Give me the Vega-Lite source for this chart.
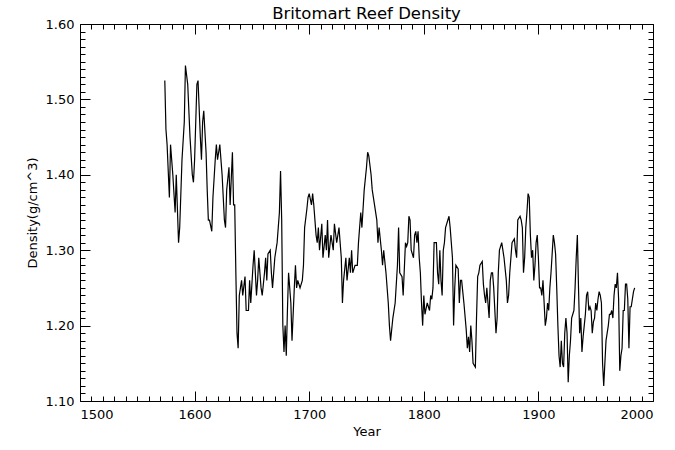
{
"$schema":"https://vega.github.io/schema/vega-lite/v6.json",
"width":573,"height":377,
"autosize":{"type":"none"},
"padding":{"left":80,"top":24,"right":22,"bottom":49},
"background":"white",
"config":{"view":{"stroke":"black","strokeWidth":1},"axis":{"domain":false,"grid":false,"tickColor":"black","tickWidth":1,"labelColor":"black","titleColor":"black","labelFont":"DejaVu Sans","titleFont":"DejaVu Sans","labelFontSize":13,"titleFontSize":13,"titleFontWeight":"normal","labelOverlap":false}},
"title":{"text":"Britomart Reef Density","font":"DejaVu Sans","fontSize":16.5,"fontWeight":"normal","color":"black","anchor":"middle","offset":-4},
"data":{"values":[
{"Year":1574,"Density":1.525},{"Year":1575,"Density":1.46},{"Year":1576,"Density":1.44},{"Year":1578,"Density":1.37},{"Year":1579,"Density":1.44},{"Year":1581,"Density":1.40},{"Year":1583,"Density":1.35},{"Year":1584,"Density":1.40},{"Year":1586,"Density":1.31},{"Year":1587,"Density":1.33},{"Year":1589,"Density":1.42},{"Year":1591,"Density":1.47},{"Year":1592,"Density":1.545},{"Year":1594,"Density":1.52},{"Year":1596,"Density":1.45},{"Year":1598,"Density":1.40},{"Year":1599,"Density":1.39},{"Year":1600,"Density":1.42},{"Year":1602,"Density":1.52},{"Year":1603,"Density":1.525},{"Year":1605,"Density":1.45},{"Year":1606,"Density":1.42},{"Year":1607,"Density":1.47},{"Year":1608,"Density":1.485},{"Year":1610,"Density":1.43},{"Year":1611,"Density":1.38},{"Year":1612,"Density":1.34},{"Year":1613,"Density":1.34},{"Year":1615,"Density":1.325},{"Year":1616,"Density":1.37},{"Year":1618,"Density":1.42},{"Year":1619,"Density":1.44},{"Year":1620,"Density":1.42},{"Year":1622,"Density":1.44},{"Year":1624,"Density":1.40},{"Year":1626,"Density":1.34},{"Year":1627,"Density":1.33},{"Year":1628,"Density":1.38},{"Year":1630,"Density":1.41},{"Year":1631,"Density":1.36},{"Year":1633,"Density":1.43},{"Year":1634,"Density":1.36},{"Year":1635,"Density":1.36},{"Year":1636,"Density":1.27},{"Year":1637,"Density":1.19},{"Year":1638,"Density":1.17},{"Year":1639,"Density":1.24},{"Year":1640,"Density":1.25},{"Year":1641,"Density":1.26},{"Year":1642,"Density":1.24},{"Year":1644,"Density":1.265},{"Year":1645,"Density":1.22},{"Year":1647,"Density":1.22},{"Year":1648,"Density":1.26},{"Year":1649,"Density":1.23},{"Year":1651,"Density":1.28},{"Year":1652,"Density":1.30},{"Year":1654,"Density":1.24},{"Year":1655,"Density":1.26},{"Year":1656,"Density":1.29},{"Year":1658,"Density":1.25},{"Year":1659,"Density":1.24},{"Year":1661,"Density":1.27},{"Year":1662,"Density":1.29},{"Year":1663,"Density":1.26},{"Year":1664,"Density":1.295},{"Year":1666,"Density":1.30},{"Year":1667,"Density":1.27},{"Year":1668,"Density":1.25},{"Year":1670,"Density":1.29},{"Year":1672,"Density":1.31},{"Year":1674,"Density":1.35},{"Year":1675,"Density":1.405},{"Year":1676,"Density":1.34},{"Year":1677,"Density":1.20},{"Year":1678,"Density":1.165},{"Year":1679,"Density":1.20},{"Year":1680,"Density":1.16},{"Year":1681,"Density":1.22},{"Year":1682,"Density":1.27},{"Year":1684,"Density":1.23},{"Year":1685,"Density":1.18},{"Year":1687,"Density":1.25},{"Year":1688,"Density":1.28},{"Year":1689,"Density":1.25},{"Year":1690,"Density":1.26},{"Year":1692,"Density":1.25},{"Year":1694,"Density":1.26},{"Year":1695,"Density":1.28},{"Year":1696,"Density":1.33},{"Year":1698,"Density":1.355},{"Year":1699,"Density":1.37},{"Year":1700,"Density":1.375},{"Year":1702,"Density":1.36},{"Year":1703,"Density":1.375},{"Year":1704,"Density":1.36},{"Year":1706,"Density":1.32},{"Year":1707,"Density":1.31},{"Year":1708,"Density":1.33},{"Year":1709,"Density":1.30},{"Year":1711,"Density":1.335},{"Year":1712,"Density":1.29},{"Year":1714,"Density":1.32},{"Year":1715,"Density":1.30},{"Year":1716,"Density":1.34},{"Year":1717,"Density":1.29},{"Year":1719,"Density":1.32},{"Year":1721,"Density":1.30},{"Year":1722,"Density":1.335},{"Year":1724,"Density":1.31},{"Year":1726,"Density":1.33},{"Year":1728,"Density":1.29},{"Year":1729,"Density":1.23},{"Year":1730,"Density":1.26},{"Year":1732,"Density":1.29},{"Year":1733,"Density":1.26},{"Year":1735,"Density":1.29},{"Year":1736,"Density":1.27},{"Year":1737,"Density":1.30},{"Year":1738,"Density":1.27},{"Year":1740,"Density":1.28},{"Year":1742,"Density":1.28},{"Year":1743,"Density":1.31},{"Year":1745,"Density":1.35},{"Year":1746,"Density":1.33},{"Year":1748,"Density":1.38},{"Year":1750,"Density":1.41},{"Year":1751,"Density":1.43},{"Year":1752,"Density":1.425},{"Year":1754,"Density":1.40},{"Year":1755,"Density":1.38},{"Year":1756,"Density":1.37},{"Year":1757,"Density":1.36},{"Year":1759,"Density":1.34},{"Year":1760,"Density":1.31},{"Year":1761,"Density":1.33},{"Year":1763,"Density":1.30},{"Year":1764,"Density":1.28},{"Year":1765,"Density":1.30},{"Year":1767,"Density":1.27},{"Year":1769,"Density":1.23},{"Year":1770,"Density":1.20},{"Year":1771,"Density":1.18},{"Year":1773,"Density":1.21},{"Year":1775,"Density":1.23},{"Year":1777,"Density":1.28},{"Year":1778,"Density":1.33},{"Year":1779,"Density":1.27},{"Year":1781,"Density":1.265},{"Year":1782,"Density":1.24},{"Year":1784,"Density":1.31},{"Year":1785,"Density":1.305},{"Year":1786,"Density":1.31},{"Year":1787,"Density":1.345},{"Year":1788,"Density":1.34},{"Year":1789,"Density":1.30},{"Year":1791,"Density":1.29},{"Year":1792,"Density":1.32},{"Year":1793,"Density":1.325},{"Year":1794,"Density":1.31},{"Year":1795,"Density":1.325},{"Year":1796,"Density":1.29},{"Year":1797,"Density":1.27},{"Year":1798,"Density":1.23},{"Year":1799,"Density":1.20},{"Year":1800,"Density":1.24},{"Year":1801,"Density":1.215},{"Year":1803,"Density":1.23},{"Year":1805,"Density":1.22},{"Year":1806,"Density":1.24},{"Year":1807,"Density":1.235},{"Year":1808,"Density":1.25},{"Year":1809,"Density":1.31},{"Year":1811,"Density":1.31},{"Year":1812,"Density":1.27},{"Year":1813,"Density":1.255},{"Year":1814,"Density":1.30},{"Year":1815,"Density":1.26},{"Year":1816,"Density":1.24},{"Year":1817,"Density":1.30},{"Year":1818,"Density":1.31},{"Year":1819,"Density":1.33},{"Year":1821,"Density":1.34},{"Year":1822,"Density":1.345},{"Year":1823,"Density":1.33},{"Year":1825,"Density":1.29},{"Year":1826,"Density":1.20},{"Year":1827,"Density":1.25},{"Year":1828,"Density":1.28},{"Year":1830,"Density":1.275},{"Year":1831,"Density":1.23},{"Year":1832,"Density":1.26},{"Year":1833,"Density":1.26},{"Year":1835,"Density":1.23},{"Year":1837,"Density":1.195},{"Year":1838,"Density":1.17},{"Year":1839,"Density":1.185},{"Year":1840,"Density":1.165},{"Year":1841,"Density":1.20},{"Year":1842,"Density":1.18},{"Year":1843,"Density":1.15},{"Year":1845,"Density":1.145},{"Year":1846,"Density":1.21},{"Year":1847,"Density":1.265},{"Year":1848,"Density":1.27},{"Year":1849,"Density":1.28},{"Year":1851,"Density":1.285},{"Year":1852,"Density":1.255},{"Year":1853,"Density":1.24},{"Year":1854,"Density":1.23},{"Year":1855,"Density":1.25},{"Year":1857,"Density":1.21},{"Year":1858,"Density":1.26},{"Year":1859,"Density":1.27},{"Year":1860,"Density":1.27},{"Year":1861,"Density":1.25},{"Year":1863,"Density":1.19},{"Year":1864,"Density":1.21},{"Year":1865,"Density":1.27},{"Year":1866,"Density":1.30},{"Year":1868,"Density":1.31},{"Year":1869,"Density":1.30},{"Year":1870,"Density":1.29},{"Year":1872,"Density":1.26},{"Year":1873,"Density":1.23},{"Year":1874,"Density":1.24},{"Year":1875,"Density":1.27},{"Year":1877,"Density":1.31},{"Year":1879,"Density":1.315},{"Year":1880,"Density":1.30},{"Year":1881,"Density":1.29},{"Year":1882,"Density":1.34},{"Year":1884,"Density":1.345},{"Year":1885,"Density":1.34},{"Year":1886,"Density":1.33},{"Year":1887,"Density":1.27},{"Year":1888,"Density":1.29},{"Year":1889,"Density":1.33},{"Year":1890,"Density":1.35},{"Year":1891,"Density":1.375},{"Year":1892,"Density":1.37},{"Year":1893,"Density":1.32},{"Year":1894,"Density":1.29},{"Year":1895,"Density":1.30},{"Year":1896,"Density":1.26},{"Year":1897,"Density":1.28},{"Year":1898,"Density":1.31},{"Year":1899,"Density":1.32},{"Year":1900,"Density":1.29},{"Year":1901,"Density":1.25},{"Year":1902,"Density":1.25},{"Year":1903,"Density":1.24},{"Year":1904,"Density":1.26},{"Year":1905,"Density":1.23},{"Year":1906,"Density":1.20},{"Year":1907,"Density":1.21},{"Year":1908,"Density":1.23},{"Year":1909,"Density":1.22},{"Year":1910,"Density":1.25},{"Year":1911,"Density":1.27},{"Year":1913,"Density":1.32},{"Year":1914,"Density":1.31},{"Year":1915,"Density":1.295},{"Year":1916,"Density":1.25},{"Year":1917,"Density":1.20},{"Year":1918,"Density":1.16},{"Year":1919,"Density":1.145},{"Year":1920,"Density":1.18},{"Year":1921,"Density":1.15},{"Year":1922,"Density":1.145},{"Year":1923,"Density":1.19},{"Year":1924,"Density":1.21},{"Year":1925,"Density":1.19},{"Year":1926,"Density":1.125},{"Year":1927,"Density":1.16},{"Year":1928,"Density":1.18},{"Year":1929,"Density":1.21},{"Year":1930,"Density":1.215},{"Year":1931,"Density":1.22},{"Year":1932,"Density":1.25},{"Year":1933,"Density":1.29},{"Year":1934,"Density":1.32},{"Year":1935,"Density":1.25},{"Year":1936,"Density":1.19},{"Year":1937,"Density":1.21},{"Year":1938,"Density":1.165},{"Year":1939,"Density":1.185},{"Year":1940,"Density":1.20},{"Year":1941,"Density":1.215},{"Year":1942,"Density":1.24},{"Year":1943,"Density":1.245},{"Year":1944,"Density":1.22},{"Year":1945,"Density":1.225},{"Year":1946,"Density":1.22},{"Year":1947,"Density":1.19},{"Year":1948,"Density":1.205},{"Year":1949,"Density":1.21},{"Year":1950,"Density":1.23},{"Year":1951,"Density":1.22},{"Year":1952,"Density":1.235},{"Year":1953,"Density":1.245},{"Year":1954,"Density":1.24},{"Year":1955,"Density":1.23},{"Year":1956,"Density":1.15},{"Year":1957,"Density":1.12},{"Year":1958,"Density":1.15},{"Year":1959,"Density":1.18},{"Year":1960,"Density":1.19},{"Year":1961,"Density":1.20},{"Year":1962,"Density":1.215},{"Year":1963,"Density":1.215},{"Year":1964,"Density":1.22},{"Year":1965,"Density":1.21},{"Year":1966,"Density":1.24},{"Year":1967,"Density":1.255},{"Year":1968,"Density":1.25},{"Year":1969,"Density":1.27},{"Year":1970,"Density":1.235},{"Year":1971,"Density":1.14},{"Year":1972,"Density":1.16},{"Year":1973,"Density":1.17},{"Year":1974,"Density":1.22},{"Year":1975,"Density":1.22},{"Year":1976,"Density":1.255},{"Year":1977,"Density":1.255},{"Year":1978,"Density":1.235},{"Year":1979,"Density":1.17},{"Year":1980,"Density":1.225},{"Year":1981,"Density":1.225},{"Year":1982,"Density":1.235},{"Year":1983,"Density":1.245},{"Year":1984,"Density":1.25}
]},
"layer":[
{"mark":{"type":"line","color":"black","strokeWidth":1.2,"interpolate":"linear"},
 "encoding":{
  "x":{"field":"Year","type":"quantitative","scale":{"domain":[1500,2000],"nice":false,"zero":false},
   "axis":{"orient":"bottom","values":[1500,1600,1700,1800,1900,2000],"format":"d","tickSize":10,"offset":-10,"labelPadding":7,"title":"Year","titlePadding":4}},
  "y":{"field":"Density","type":"quantitative","scale":{"domain":[1.1,1.6],"nice":false,"zero":false},
   "axis":{"orient":"left","values":[1.1,1.2,1.3,1.4,1.5,1.6],"format":".2f","tickSize":10,"offset":-10,"labelPadding":6,"title":"Density(g/cm^3)","titlePadding":6}}
 }},
{"mark":{"type":"line","opacity":0},
 "encoding":{
  "x":{"field":"Year","type":"quantitative","axis":{"orient":"top","values":[1500,1600,1700,1800,1900,2000],"labels":false,"title":null,"tickSize":10,"offset":-10}},
  "y":{"field":"Density","type":"quantitative","axis":{"orient":"right","values":[1.1,1.2,1.3,1.4,1.5,1.6],"labels":false,"title":null,"tickSize":10,"offset":-10}}
 }},
{"mark":{"type":"line","opacity":0},
 "encoding":{
  "x":{"field":"Year","type":"quantitative","axis":{"orient":"bottom","values":[1510,1520,1530,1540,1550,1560,1570,1580,1590,1610,1620,1630,1640,1650,1660,1670,1680,1690,1710,1720,1730,1740,1750,1760,1770,1780,1790,1810,1820,1830,1840,1850,1860,1870,1880,1890,1910,1920,1930,1940,1950,1960,1970,1980,1990],"labels":false,"title":null,"tickSize":5,"offset":-5}},
  "y":{"field":"Density","type":"quantitative","axis":{"orient":"left","values":[1.11,1.12,1.13,1.14,1.15,1.16,1.17,1.18,1.19,1.21,1.22,1.23,1.24,1.25,1.26,1.27,1.28,1.29,1.31,1.32,1.33,1.34,1.35,1.36,1.37,1.38,1.39,1.41,1.42,1.43,1.44,1.45,1.46,1.47,1.48,1.49,1.51,1.52,1.53,1.54,1.55,1.56,1.57,1.58,1.59],"labels":false,"title":null,"tickSize":5,"offset":-5}}
 }},
{"mark":{"type":"line","opacity":0},
 "encoding":{
  "x":{"field":"Year","type":"quantitative","axis":{"orient":"top","values":[1510,1520,1530,1540,1550,1560,1570,1580,1590,1610,1620,1630,1640,1650,1660,1670,1680,1690,1710,1720,1730,1740,1750,1760,1770,1780,1790,1810,1820,1830,1840,1850,1860,1870,1880,1890,1910,1920,1930,1940,1950,1960,1970,1980,1990],"labels":false,"title":null,"tickSize":5,"offset":-5}},
  "y":{"field":"Density","type":"quantitative","axis":{"orient":"right","values":[1.11,1.12,1.13,1.14,1.15,1.16,1.17,1.18,1.19,1.21,1.22,1.23,1.24,1.25,1.26,1.27,1.28,1.29,1.31,1.32,1.33,1.34,1.35,1.36,1.37,1.38,1.39,1.41,1.42,1.43,1.44,1.45,1.46,1.47,1.48,1.49,1.51,1.52,1.53,1.54,1.55,1.56,1.57,1.58,1.59],"labels":false,"title":null,"tickSize":5,"offset":-5}}
 }}
],
"resolve":{"axis":{"x":"independent","y":"independent"}}
}
